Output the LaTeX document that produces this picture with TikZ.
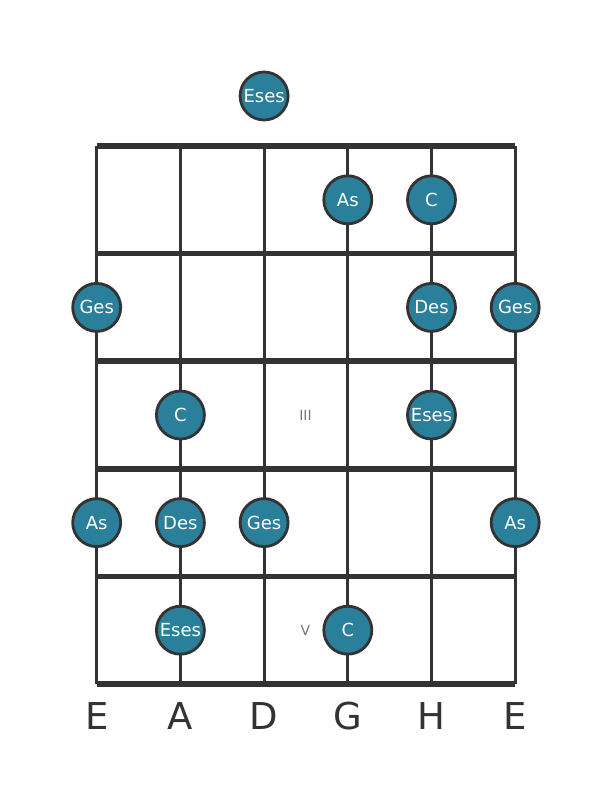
\documentclass[tikz,border=0pt]{standalone}
\usepackage{fontspec}
\setmainfont{DejaVu Sans}
\definecolor{notefill}{HTML}{2A7F9B}
\definecolor{lineclr}{HTML}{333333}
\definecolor{romanclr}{HTML}{777777}
\begin{document}
\begin{tikzpicture}[x=1pt,y=-1pt,
  fretline/.style={draw=lineclr,line width=5.5pt},
  stringline/.style={draw=lineclr,line width=3pt},
  note/.style={circle,fill=notefill,draw=lineclr,line width=2.8pt,minimum size=48pt,inner sep=0pt,text=white,font=\fontsize{18}{18}\selectfont},
  roman/.style={text=romanclr,font=\fontsize{14}{14}\selectfont},
  strname/.style={text=lineclr,font=\fontsize{37}{37}\selectfont}]
\useasboundingbox (0,0) rectangle (611,801);
% strings
\foreach \i/\x in {0/96.7,1/180.4,2/264.1,3/347.8,4/431.5,5/515.2}{
  \coordinate (st\i) at (\x,146);
  \coordinate (sb\i) at (\x,684);
  \draw[stringline] (st\i) -- (sb\i);
}
% frets
\foreach \j/\y in {0/146,1/253.6,2/361.2,3/468.8,4/576.4,5/684}{
  \coordinate (fl\j) at (96.7,\y);
  \coordinate (fr\j) at (515.2,\y);
  \draw[fretline] (fl\j) -- (fr\j);
}
% notes
\node[note] (n0) at (264.1,96) {Eses};
\node[note] (n1) at (347.8,199.8) {As};
\node[note] (n2) at (431.5,199.8) {C};
\node[note] (n3) at (96.7,307.4) {Ges};
\node[note] (n4) at (431.5,307.4) {Des};
\node[note] (n5) at (515.2,307.4) {Ges};
\node[note] (n6) at (180.4,415) {C};
\node[note] (n7) at (431.5,415) {Eses};
\node[note] (n8) at (96.7,522.6) {As};
\node[note] (n9) at (180.4,522.6) {Des};
\node[note] (n10) at (264.1,522.6) {Ges};
\node[note] (n11) at (515.2,522.6) {As};
\node[note] (n12) at (180.4,630.2) {Eses};
\node[note] (n13) at (347.8,630.2) {C};
% fret markers
\node[roman] (r3) at (305.5,415) {III};
\node[roman] (r5) at (305.5,630.2) {V};
% string names
\foreach \i/\x/\t in {0/96.7/E,1/180.4/A,2/264.1/D,3/347.8/G,4/431.5/H,5/515.2/E}{
  \node[strname] (name\i) at (\x,716) {\t};
}
\end{tikzpicture}
\end{document}
